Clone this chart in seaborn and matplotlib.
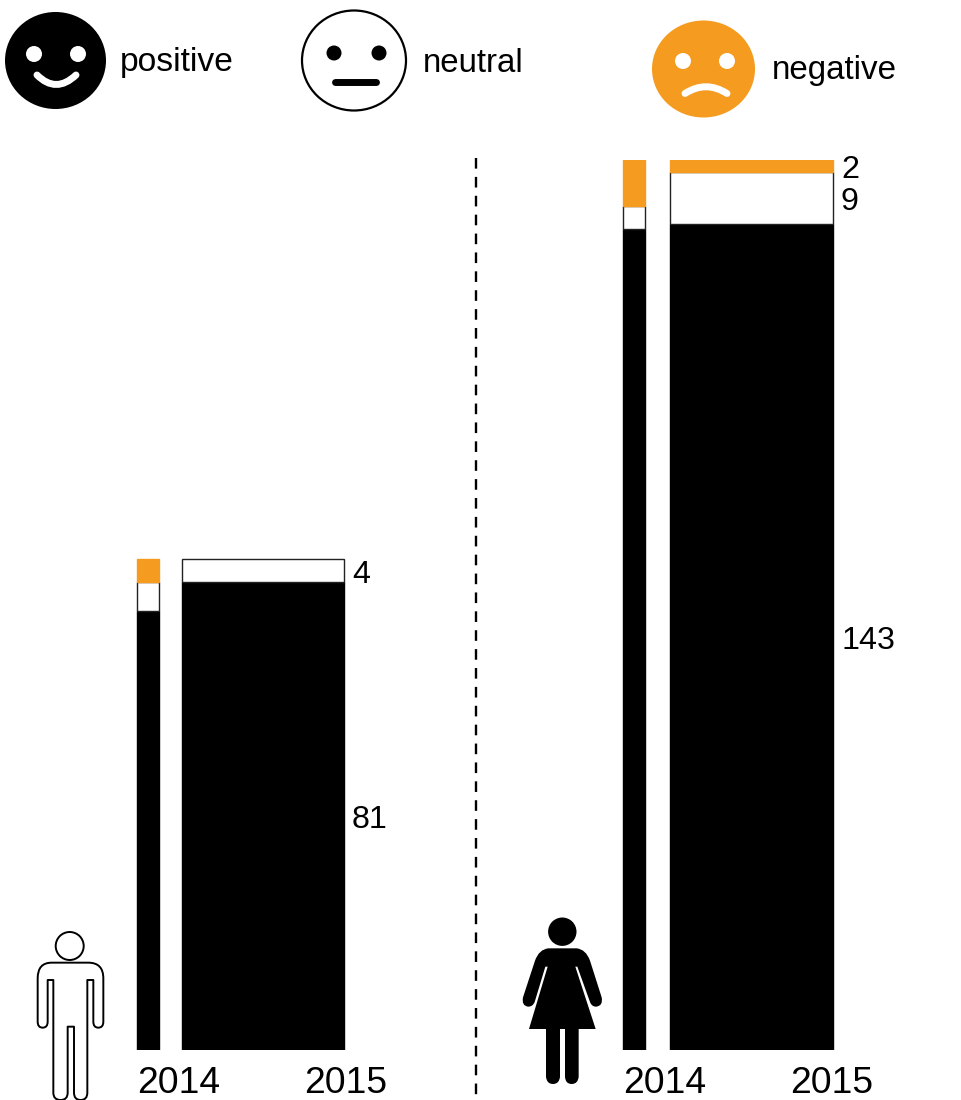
import matplotlib
matplotlib.use("Agg")
import matplotlib.pyplot as plt
import seaborn as sns
from matplotlib.patches import Ellipse, Circle, PathPatch
from matplotlib.path import Path

# ---- data ----
sentiments = ["positive", "neutral", "negative"]
male_2014 = [76, 5, 4]
male_2015 = [81, 4, 0]
female_2014 = [142, 4, 8]
female_2015 = [143, 9, 2]
year_labels = ["2014", "2015", "2014", "2015"]

# ---- style / layout ----
ORANGE = "#F59B20"
FONT = "Liberation Sans"
colors = {"positive": "black", "neutral": "white", "negative": ORANGE}
edges = {"positive": "black", "neutral": "#222222", "negative": ORANGE}
W, H = 961, 1100
BASE, TOP = 1050, 160

sns.set_theme(style="white")
plt.rcParams["font.family"] = [FONT, "DejaVu Sans"]

fig = plt.figure(figsize=(W / 100, H / 100), dpi=100, facecolor="white")
ax = fig.add_axes([0, (H - BASE) / H, 1, (BASE - TOP) / H], facecolor="none")
ov = fig.add_axes([0, 0, 1, 1], facecolor="none")
ov.set_xlim(0, W)
ov.set_ylim(H, 0)
ov.axis("off")


def stacked(values, x, width):
    """One stacked column, bottom segment first, through seaborn bars."""
    c = 0
    for name, v in zip(sentiments, values):
        if v:
            sns.barplot(x=[x], y=[v], bottom=c, native_scale=True, width=width,
                        color=colors[name], saturation=1, edgecolor=edges[name],
                        linewidth=1, errorbar=None, ax=ax)
        c += v


def value_labels(values, x, shown):
    c = 0
    for v, show in zip(values, shown):
        if show:
            ax.annotate(str(v), (x, c + v / 2), xytext=(0, -0.5), textcoords="offset points",
                        fontsize=23.2, color="black", ha="left", va="center_baseline",
                        family=FONT)
        c += v


stacked(male_2014, 148, 22)
stacked(male_2015, 263, 162)
stacked(female_2014, 634, 22)
stacked(female_2015, 751.5, 163)
value_labels(male_2015, 352, [True, True, False])
value_labels(female_2015, 841, [True, True, True])

ax.set_xlim(0, W)
ax.set_ylim(0, sum(female_2015))
ax.set_xticks([178.5, 345.5, 664.5, 832])
ax.set_xticklabels(year_labels, fontsize=26.8, color="black")
ax.set_yticks([])
ax.set_xlabel("")
ax.set_ylabel("")
ax.tick_params(axis="x", length=0, pad=11.5)
for s in ax.spines.values():
    s.set_visible(False)

# divider
ov.plot([476, 476], [158, 1098], color="black", lw=1.7, ls=(0, (4.5, 3.5)))


def stroke(pts, color, lw=5, curve=False):
    codes = [Path.MOVETO, Path.CURVE3, Path.CURVE3] if curve else [Path.MOVETO, Path.LINETO]
    ov.add_patch(PathPatch(Path(pts, codes), fc="none", ec=color, lw=lw, capstyle="round"))


# legend faces
ov.add_patch(Ellipse((55.5, 60.5), 101, 97, fc="black", ec="none"))
for ex in (34, 78):
    ov.add_patch(Circle((ex, 54), 8, fc="white", ec="none"))
stroke([(37, 75), (56, 94), (76, 75)], "white", curve=True)
ov.text(120, 62, "positive", fontsize=24.2, va="center", ha="left", color="black")

ov.add_patch(Ellipse((354, 60.5), 104, 100, fc="white", ec="black", lw=1.6))
for ex in (334, 379):
    ov.add_patch(Circle((ex, 53), 7.5, fc="black", ec="none"))
stroke([(335, 82), (376, 82)], "black")
ov.text(423, 64, "neutral", fontsize=23.8, va="center", ha="left", color="black")

ov.add_patch(Ellipse((703.5, 69), 103, 97, fc=ORANGE, ec="none"))
for ex in (683, 727):
    ov.add_patch(Circle((ex, 61), 8, fc="white", ec="none"))
stroke([(685, 93.5), (706, 80), (727, 93.5)], "white", curve=True)
ov.text(772, 71, "negative", fontsize=23.9, va="center", ha="left", color="black")


def icon(outline, ox, oy):
    """Outline given in 3x zoomed units, straight runs with rounded corners."""
    verts, codes = [], []
    for kind, *p in outline:
        if kind == "M":
            verts.append(p[0]); codes.append(Path.MOVETO)
        elif kind == "L":
            verts.append(p[0]); codes.append(Path.LINETO)
        else:
            verts += [p[0], p[1]]; codes += [Path.CURVE3, Path.CURVE3]
    verts.append(verts[0]); codes.append(Path.CLOSEPOLY)
    return Path([(ox + x / 3, oy + y / 3) for x, y in verts], codes)


man = [("M", (155, 128)), ("L", (265, 128)), ("Q", (310, 128), (310, 175)),
       ("L", (310, 305)), ("Q", (310, 323), (295, 323)), ("Q", (280, 323), (280, 305)),
       ("L", (280, 180)), ("L", (262, 180)), ("L", (262, 518)), ("Q", (262, 540), (242, 540)),
       ("Q", (222, 540), (222, 518)), ("L", (222, 320)), ("L", (203, 320)), ("L", (203, 518)),
       ("Q", (203, 540), (182, 540)), ("Q", (160, 540), (160, 518)), ("L", (160, 180)),
       ("L", (143, 180)), ("L", (143, 305)), ("Q", (143, 323), (128, 323)),
       ("Q", (113, 323), (113, 305)), ("L", (113, 175)), ("Q", (113, 128), (155, 128))]
ov.add_patch(PathPatch(icon(man, 0, 920), fc="white", ec="black", lw=1.4, joinstyle="round"))
ov.add_patch(Circle((69.7, 946), 14, fc="white", ec="black", lw=1.4))

woman = [("M", (145, 145)), ("L", (230, 145)), ("Q", (258, 148), (270, 182)),
         ("L", (305, 292)), ("Q", (310, 318), (288, 320)), ("Q", (275, 320), (270, 306)),
         ("L", (232, 200)), ("L", (226, 200)), ("L", (287, 387)), ("L", (236, 387)),
         ("L", (236, 530)), ("Q", (234, 552), (215, 552)), ("Q", (196, 552), (195, 530)),
         ("L", (195, 387)), ("L", (180, 387)), ("L", (180, 530)), ("Q", (178, 552), (159, 552)),
         ("Q", (140, 552), (138, 530)), ("L", (138, 387)), ("L", (87, 387)), ("L", (143, 200)),
         ("L", (136, 200)), ("L", (104, 306)), ("Q", (98, 320), (85, 320)),
         ("Q", (64, 318), (69, 292)), ("L", (105, 182)), ("Q", (117, 148), (145, 145))]
ov.add_patch(PathPatch(icon(woman, 500, 900), fc="black", ec="none"))
ov.add_patch(Circle((562.3, 931.7), 14.2, fc="black", ec="none"))

fig.savefig("out.png", dpi=100, facecolor="white")
